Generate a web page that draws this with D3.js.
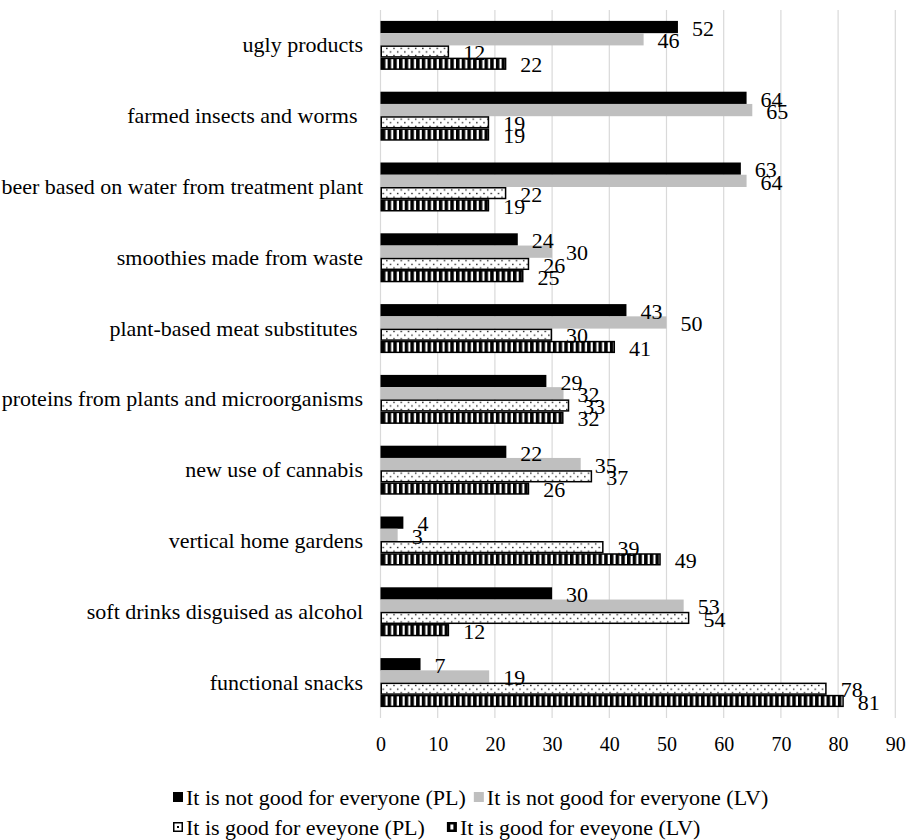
<!DOCTYPE html>
<html>
<head>
<meta charset="utf-8">
<script src="https://cdn.jsdelivr.net/npm/d3@7"></script>
<style>
  html, body { margin: 0; padding: 0; background: #fff; }
  svg { display: block; }
  svg text { font-family: "Liberation Serif", "Tinos", "DejaVu Serif", serif; white-space: pre; }
</style>
</head>
<body>
<svg id="chart" width="910" height="840"></svg>
<script>
const categories = [
  "ugly products",
  "farmed insects and worms ",
  "beer based on water from treatment plant",
  "smoothies made from waste",
  "plant-based meat substitutes ",
  "proteins from plants and microorganisms",
  "new use of cannabis",
  "vertical home gardens",
  "soft drinks disguised as alcohol",
  "functional snacks"
];
const seriesNames = [
  "It is not good for everyone (PL)",
  "It is not good for everyone (LV)",
  "It is good for eveyone (PL)",
  "It is good for eveyone (LV)"
];
const notGoodPL = [52, 64, 63, 24, 43, 29, 22, 4, 30, 7];
const notGoodLV = [46, 65, 64, 30, 50, 32, 35, 3, 53, 19];
const goodPL    = [12, 19, 22, 26, 30, 33, 37, 39, 54, 78];
const goodLV    = [22, 19, 19, 25, 41, 32, 26, 49, 12, 81];
const xTicks = [0, 10, 20, 30, 40, 50, 60, 70, 80, 90];

const seriesValues = [notGoodPL, notGoodLV, goodPL, goodLV];
const seriesKeys = ["npl", "nlv", "gpl", "glv"];

const svg = d3.select("#chart");
const defs = svg.append("defs");

const pDot = defs.append("pattern").attr("id", "pat-dots")
  .attr("patternUnits", "userSpaceOnUse").attr("width", 7.2).attr("height", 7.2);
pDot.append("rect").attr("width", 7.2).attr("height", 7.2).attr("fill", "#fff");
pDot.append("rect").attr("x", 1).attr("y", 1.6).attr("width", 1.3).attr("height", 1.3).attr("fill", "#000");
pDot.append("rect").attr("x", 4.6).attr("y", 5.2).attr("width", 1.3).attr("height", 1.3).attr("fill", "#000");

const pStr = defs.append("pattern").attr("id", "pat-stripes")
  .attr("patternUnits", "userSpaceOnUse").attr("width", 5.7).attr("height", 10);
pStr.append("rect").attr("width", 5.7).attr("height", 10).attr("fill", "#fff");
pStr.append("rect").attr("x", 0).attr("width", 3.5).attr("height", 10).attr("fill", "#000");

const fills = {
  npl: "#000000",
  nlv: "#bfbfbf",
  gpl: "url(#pat-dots)",
  glv: "url(#pat-stripes)"
};
const strokes = { npl: "none", nlv: "none", gpl: "#000", glv: "#000" };

const x = d3.scaleLinear().domain([0, 90]).range([380.5, 895.3]);
const y = d3.scaleBand().domain(categories).range([10, 718])
  .paddingInner(0.308).paddingOuter(0.154);
const ys = d3.scaleBand().domain(seriesKeys).range([0, y.bandwidth()]).padding(0);

svg.append("g").attr("class", "grid")
  .selectAll("line").data(xTicks).join("line")
  .attr("x1", d => x(d)).attr("x2", d => x(d))
  .attr("y1", 10).attr("y2", 718)
  .attr("stroke", "#d9d9d9").attr("stroke-width", 1.2);

const xAxis = d3.axisBottom(x).tickValues(xTicks).tickSize(0).tickPadding(0);
const gx = svg.append("g").attr("transform", "translate(0,737)").call(xAxis);
gx.select(".domain").remove();
gx.selectAll("text").attr("font-size", 20).attr("fill", "#000").attr("dy", "0.71em");

const yAxis = d3.axisLeft(y).tickSize(0).tickPadding(0);
const gy = svg.append("g").attr("transform", "translate(363,0)").call(yAxis);
gy.select(".domain").remove();
gy.selectAll("text").attr("font-size", 22).attr("fill", "#000").attr("x", 0).attr("dy", "0.32em");

const groups = svg.append("g").selectAll("g.cat").data(categories).join("g")
  .attr("class", "cat").attr("transform", d => `translate(0,${y(d)})`);

groups.each(function(cat, i) {
  const g = d3.select(this);
  seriesKeys.forEach((k, s) => {
    const v = seriesValues[s][i];
    const hasStroke = strokes[k] !== "none";
    g.append("rect")
      .attr("x", x(0) + (hasStroke ? 0.75 : 0))
      .attr("y", ys(k) + (hasStroke ? 0.75 : 0))
      .attr("width", Math.max(0, x(v) - x(0) - (hasStroke ? 1.5 : 0)))
      .attr("height", ys.bandwidth() - (hasStroke ? 1.5 : 0))
      .attr("fill", fills[k])
      .attr("stroke", strokes[k])
      .attr("stroke-width", hasStroke ? 1.5 : 0);
  });
  seriesKeys.forEach((k, s) => {
    const v = seriesValues[s][i];
    g.append("text")
      .attr("x", x(v) + 14)
      .attr("y", ys(k) + ys.bandwidth() / 2 + 1)
      .attr("dy", "0.35em")
      .attr("font-size", 22)
      .attr("fill", "#000")
      .text(v);
  });
});

const legendRows = [797, 797, 827, 827];
const lg = svg.append("g").attr("class", "legend");
let prevEnd = 0;
seriesKeys.forEach((k, s) => {
  const ty = legendRows[s];
  let mx = 173;
  if (s === 1) mx = prevEnd + 8;
  if (s === 3) mx = prevEnd + 22;
  const item = lg.append("g");
  const hasStroke = strokes[k] !== "none";
  item.append("rect")
    .attr("x", mx + (hasStroke ? 0.75 : 0)).attr("y", ty - 5 + (hasStroke ? 0.75 : 0))
    .attr("width", 10 - (hasStroke ? 1.5 : 0)).attr("height", 10 - (hasStroke ? 1.5 : 0))
    .attr("fill", k === "gpl" ? "#fff" : (k === "glv" ? "#000" : fills[k]))
    .attr("stroke", strokes[k]).attr("stroke-width", 1.5);
  if (k === "gpl") {
    item.append("rect").attr("x", mx + 4).attr("y", ty - 1).attr("width", 2).attr("height", 2).attr("fill", "#000");
  }
  if (k === "glv") {
    item.append("rect").attr("x", mx + 3.5).attr("y", ty - 2.5).attr("width", 3).attr("height", 5).attr("fill", "#fff");
  }
  const t = item.append("text")
    .attr("x", mx + 13).attr("y", ty).attr("dy", "0.35em")
    .attr("font-size", 22).attr("fill", "#000")
    .text(seriesNames[s]);
  prevEnd = mx + 13 + t.node().getComputedTextLength();
});
</script>
</body>
</html>
